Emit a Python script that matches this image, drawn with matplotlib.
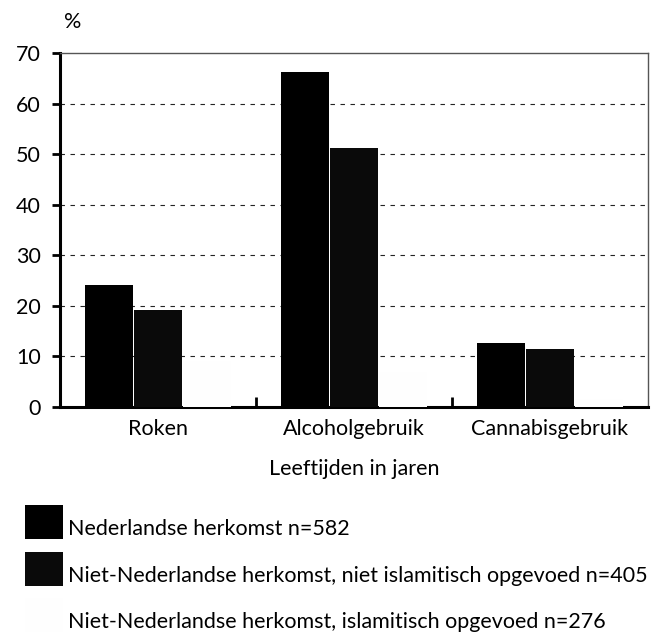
import numpy as np
import matplotlib.pyplot as plt
from matplotlib.patches import Rectangle

plt.rcParams['font.family'] = ['Lato', 'DejaVu Sans']

# data
categories = ['Roken', 'Alcoholgebruik', 'Cannabisgebruik']
series = ['Nederlandse herkomst n=582',
          'Niet-Nederlandse herkomst, niet islamitisch opgevoed n=405',
          'Niet-Nederlandse herkomst, islamitisch opgevoed n=276']
nederlands = [24.2, 66.3, 12.6]
niet_islam = [19.1, 51.3, 11.4]
islam = [9.0, 7.0, 1.5]
colors = ['black', '#0a0a0a', '#fefefe']

W, H = 663, 634
fs = 15.5
fig = plt.figure(figsize=(W/100, H/100), dpi=100)
ax = fig.add_axes([60/W, (H-407)/H, 588/W, 354/H])

x = np.arange(len(categories))
w = 0.245
for i, (vals, c) in enumerate(zip([nederlands, niet_islam, islam], colors)):
    ax.bar(x - 0.25 + i*0.25, vals, width=w, color=c, zorder=3)

ax.set_xlim(-0.5, 2.5)
ax.set_ylim(0, 70)
ax.set_yticks(range(0, 71, 10))
ax.set_xticks(x)
ax.set_xticklabels(categories, fontsize=fs, va='baseline')
ax.tick_params(axis='x', length=0, pad=20)
ax.set_xticks([0.5, 1.5], minor=True)
ax.tick_params(axis='x', which='minor', direction='in', length=7, width=2)
ax.tick_params(axis='y', labelsize=fs, length=6, width=2, pad=8)

for y in range(10, 70, 10):
    ax.axhline(y, color='#222222', lw=0.8, ls=(0, (4, 5)), zorder=1)

ax.spines['left'].set_linewidth(2.2)
ax.spines['bottom'].set_linewidth(2.2)
for s in ['top', 'right']:
    ax.spines[s].set_linewidth(1.0)
    ax.spines[s].set_color('#555555')

fig.text(64/W, 1 - 22/H, '%', fontsize=fs, ha='left', va='center')
ax.set_xlabel('Leeftijden in jaren', fontsize=fs, va='baseline')
ax.xaxis.set_label_coords(0.5, -(475 - 407)/354)

# legend, drawn by hand
baselines = [535, 582, 628]
for lab, c, b in zip(series, colors, baselines):
    fig.add_artist(Rectangle((25/W, 1 - (b + 4)/H), 38/W, 34/H,
                             transform=fig.transFigure, facecolor=c, edgecolor='none'))
    fig.text(68/W, 1 - b/H, lab, fontsize=fs, ha='left', va='baseline')

plt.savefig('out.png', dpi=100)
